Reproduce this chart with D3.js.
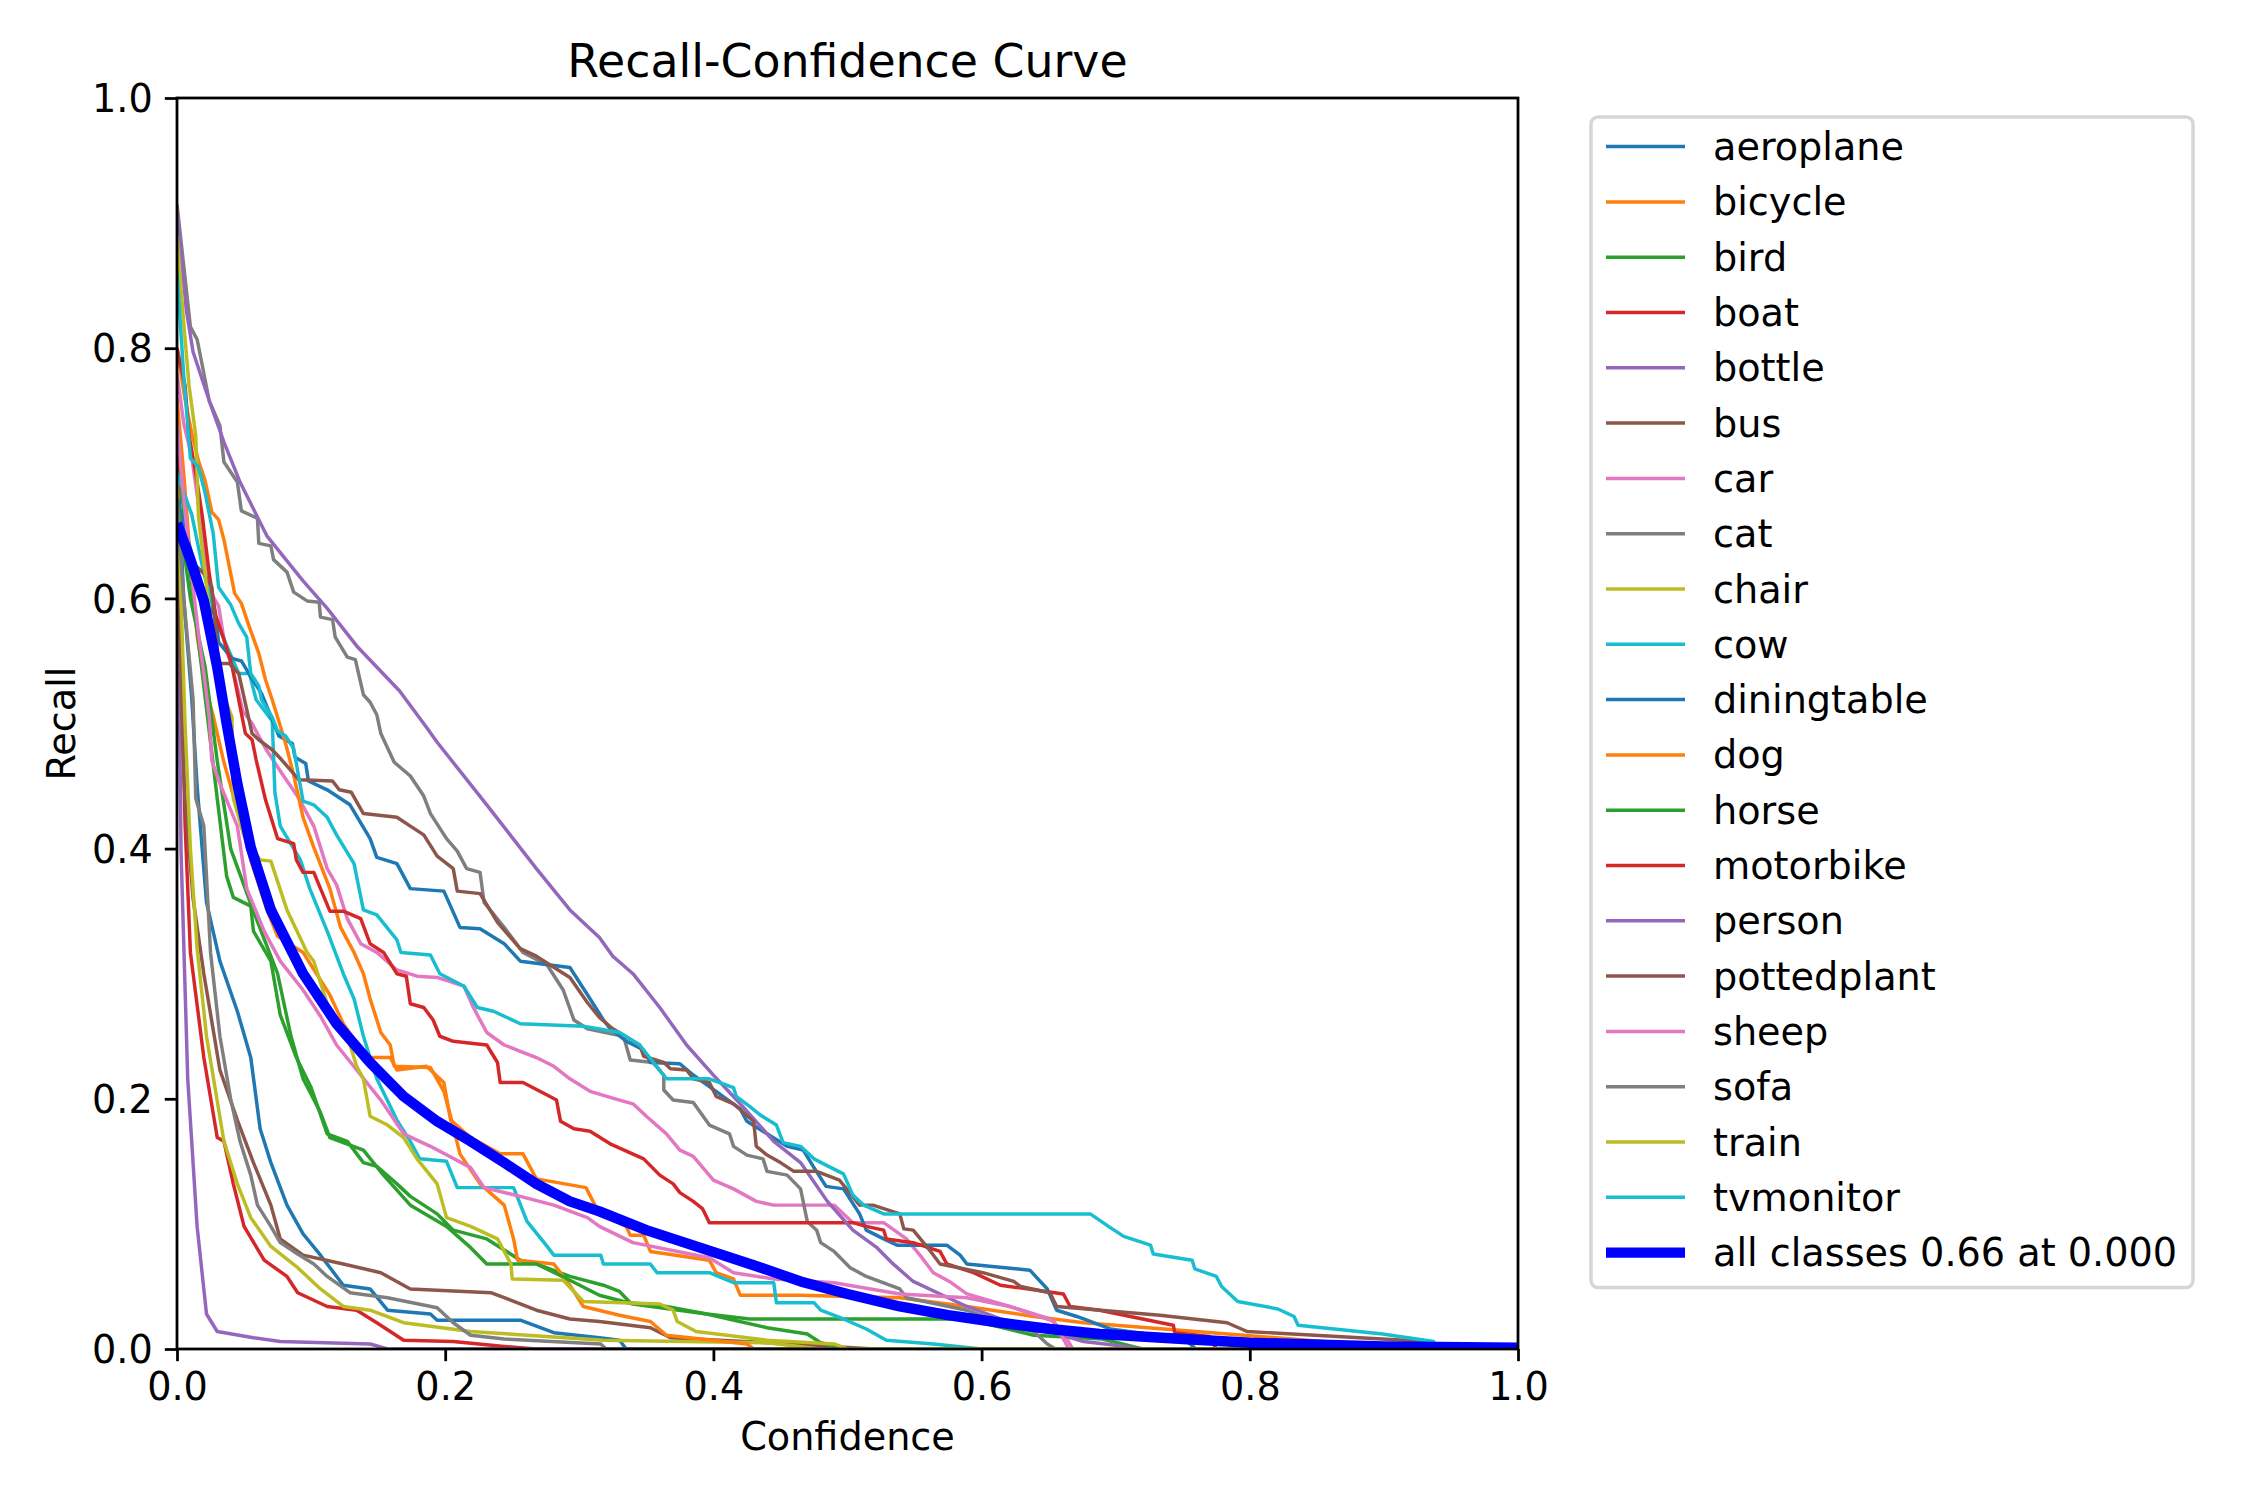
<!DOCTYPE html>
<html>
<head>
<meta charset="utf-8">
<script src="https://cdn.jsdelivr.net/npm/d3@7"></script>
<style>
  body { margin: 0; background: #fff; }
  text { font-family: "DejaVu Sans", sans-serif; }
</style>
</head>
<body>
<div id="chart"></div>
<script>
// class names, in legend order
var classNames = ["aeroplane", "bicycle", "bird", "boat", "bottle", "bus", "car", "cat", "chair", "cow",
  "diningtable", "dog", "horse", "motorbike", "person", "pottedplant", "sheep", "sofa", "train", "tvmonitor"];

// [confidence, recall] points
var aeroplane = [[0, 0.72], [0.005, 0.6], [0.011, 0.52], [0.015, 0.45], [0.022, 0.357], [0.032, 0.31], [0.045, 0.27],
  [0.055, 0.233], [0.062, 0.176], [0.07, 0.149], [0.082, 0.115], [0.094, 0.092], [0.107, 0.075], [0.124, 0.051],
  [0.144, 0.048], [0.157, 0.031], [0.189, 0.028], [0.194, 0.023], [0.256, 0.023], [0.281, 0.013], [0.315, 0.009],
  [0.33, 0.007], [0.335, 0], [1, 0]];
var bicycle = [[0, 0.76], [0.005, 0.7], [0.01, 0.63], [0.015, 0.57], [0.021, 0.53], [0.027, 0.506], [0.035, 0.469],
  [0.045, 0.431], [0.055, 0.391], [0.067, 0.351], [0.075, 0.33], [0.094, 0.317], [0.114, 0.283], [0.124, 0.26],
  [0.137, 0.24], [0.144, 0.233], [0.159, 0.233], [0.164, 0.223], [0.186, 0.226], [0.199, 0.213], [0.204, 0.183],
  [0.219, 0.169], [0.241, 0.156], [0.258, 0.156], [0.268, 0.136], [0.305, 0.129], [0.315, 0.108], [0.335, 0.098],
  [0.338, 0.091], [0.348, 0.091], [0.353, 0.078], [0.397, 0.071], [0.402, 0.061], [0.415, 0.056], [0.42, 0.043],
  [0.465, 0.043], [0.539, 0.041], [0.589, 0.034], [0.639, 0.026], [0.676, 0.021], [0.76, 0.014], [0.855, 0.006],
  [0.857, 0], [1, 0]];
var bird = [[0, 0.72], [0.01, 0.62], [0.02, 0.53], [0.03, 0.44], [0.037, 0.378], [0.042, 0.361], [0.055, 0.354],
  [0.057, 0.334], [0.07, 0.31], [0.077, 0.267], [0.089, 0.233], [0.1, 0.209], [0.112, 0.172], [0.127, 0.166],
  [0.139, 0.149], [0.149, 0.146], [0.164, 0.132], [0.174, 0.122], [0.194, 0.108], [0.206, 0.095], [0.231, 0.088],
  [0.256, 0.071], [0.268, 0.068], [0.293, 0.058], [0.318, 0.051], [0.33, 0.046], [0.338, 0.037], [0.365, 0.034],
  [0.395, 0.028], [0.427, 0.024], [0.589, 0.024], [0.639, 0.011], [0.69, 0.008], [0.72, 0], [1, 0]];
var boat = [[0, 0.72], [0.003, 0.55], [0.006, 0.42], [0.01, 0.317], [0.02, 0.233], [0.03, 0.169], [0.035, 0.166],
  [0.042, 0.132], [0.05, 0.098], [0.065, 0.071], [0.082, 0.058], [0.09, 0.045], [0.112, 0.034], [0.134, 0.031],
  [0.149, 0.021], [0.169, 0.007], [0.206, 0.006], [0.244, 0.002], [0.268, 0], [1, 0]];
var bottle = [[0, 0.62], [0.002, 0.5], [0.003, 0.398], [0.008, 0.216], [0.015, 0.098], [0.02, 0.048], [0.022, 0.028],
  [0.03, 0.014], [0.057, 0.009], [0.077, 0.006], [0.144, 0.004], [0.157, 0], [1, 0]];
var bus = [[0, 0.66], [0.004, 0.49], [0.006, 0.44], [0.012, 0.36], [0.02, 0.3], [0.032, 0.223], [0.045, 0.183],
  [0.057, 0.149], [0.07, 0.115], [0.077, 0.088], [0.094, 0.075], [0.124, 0.068], [0.152, 0.061], [0.174, 0.048],
  [0.234, 0.045], [0.244, 0.041], [0.268, 0.031], [0.293, 0.024], [0.315, 0.022], [0.353, 0.017], [0.368, 0.009],
  [0.44, 0.005], [0.52, 0], [1, 0]];
var car = [[0, 0.78], [0.005, 0.74], [0.011, 0.713], [0.016, 0.675], [0.021, 0.634], [0.026, 0.603], [0.031, 0.594],
  [0.036, 0.561], [0.041, 0.546], [0.046, 0.524], [0.049, 0.51], [0.056, 0.5], [0.066, 0.48], [0.077, 0.462],
  [0.091, 0.44], [0.102, 0.418], [0.112, 0.384], [0.119, 0.371], [0.127, 0.344], [0.137, 0.324], [0.149, 0.317],
  [0.164, 0.303], [0.179, 0.298], [0.194, 0.297], [0.214, 0.29], [0.221, 0.273], [0.231, 0.253], [0.244, 0.243],
  [0.256, 0.238], [0.268, 0.233], [0.281, 0.226], [0.293, 0.216], [0.308, 0.206], [0.33, 0.199], [0.34, 0.196],
  [0.35, 0.186], [0.365, 0.172], [0.375, 0.159], [0.385, 0.154], [0.4, 0.135], [0.415, 0.128], [0.432, 0.118],
  [0.445, 0.115], [0.49, 0.115], [0.504, 0.101], [0.527, 0.101], [0.544, 0.088], [0.554, 0.075], [0.564, 0.061],
  [0.576, 0.054], [0.589, 0.044], [0.621, 0.034], [0.651, 0.024], [0.66, 0.015], [0.668, 0], [1, 0]];
var cat = [[0, 0.915], [0.01, 0.817], [0.015, 0.807], [0.02, 0.78], [0.024, 0.758], [0.032, 0.738], [0.035, 0.709],
  [0.045, 0.693], [0.048, 0.67], [0.06, 0.664], [0.061, 0.644], [0.07, 0.642], [0.072, 0.631], [0.082, 0.621],
  [0.087, 0.605], [0.097, 0.598], [0.106, 0.597], [0.107, 0.585], [0.116, 0.583], [0.118, 0.569], [0.127, 0.553],
  [0.133, 0.551], [0.139, 0.523], [0.144, 0.517], [0.149, 0.507], [0.152, 0.492], [0.162, 0.469], [0.174, 0.458],
  [0.184, 0.442], [0.189, 0.428], [0.201, 0.408], [0.209, 0.398], [0.216, 0.384], [0.226, 0.381], [0.229, 0.357],
  [0.244, 0.337], [0.258, 0.317], [0.276, 0.307], [0.288, 0.287], [0.296, 0.263], [0.306, 0.256], [0.333, 0.25],
  [0.338, 0.231], [0.355, 0.229], [0.363, 0.219], [0.363, 0.207], [0.37, 0.199], [0.385, 0.197], [0.397, 0.179],
  [0.412, 0.172], [0.415, 0.162], [0.425, 0.155], [0.437, 0.152], [0.44, 0.142], [0.455, 0.139], [0.465, 0.128],
  [0.47, 0.102], [0.477, 0.095], [0.48, 0.085], [0.49, 0.078], [0.502, 0.065], [0.514, 0.058], [0.539, 0.048],
  [0.544, 0.041], [0.589, 0.031], [0.614, 0.021], [0.639, 0.014], [0.649, 0.004], [0.655, 0], [1, 0]];
var chair = [[0, 0.7], [0.003, 0.6], [0.006, 0.5], [0.01, 0.4], [0.015, 0.32], [0.022, 0.25], [0.035, 0.166],
  [0.045, 0.132], [0.055, 0.105], [0.07, 0.082], [0.09, 0.065], [0.107, 0.048], [0.124, 0.034], [0.144, 0.031],
  [0.169, 0.021], [0.219, 0.014], [0.318, 0.007], [0.44, 0.005], [0.48, 0], [1, 0]];
var cow = [[0, 0.7], [0.011, 0.667], [0.02, 0.62], [0.03, 0.58], [0.046, 0.54], [0.054, 0.54], [0.059, 0.519],
  [0.071, 0.502], [0.073, 0.445], [0.077, 0.418], [0.092, 0.391], [0.099, 0.368], [0.112, 0.334], [0.124, 0.3],
  [0.132, 0.28], [0.139, 0.25], [0.144, 0.233], [0.149, 0.216], [0.164, 0.183], [0.174, 0.166], [0.181, 0.152],
  [0.201, 0.15], [0.209, 0.129], [0.251, 0.129], [0.261, 0.102], [0.276, 0.082], [0.281, 0.075], [0.316, 0.075],
  [0.318, 0.068], [0.353, 0.068], [0.358, 0.061], [0.397, 0.061], [0.415, 0.053], [0.445, 0.053], [0.447, 0.037],
  [0.475, 0.037], [0.48, 0.031], [0.497, 0.024], [0.514, 0.016], [0.529, 0.007], [0.564, 0.004], [0.6, 0], [1, 0]];
var diningtable = [[0, 0.68], [0.01, 0.64], [0.02, 0.6], [0.029, 0.585], [0.031, 0.565], [0.041, 0.552],
  [0.048, 0.55], [0.053, 0.541], [0.063, 0.524], [0.068, 0.511], [0.076, 0.49], [0.086, 0.484], [0.088, 0.473],
  [0.096, 0.468], [0.098, 0.454], [0.112, 0.447], [0.129, 0.435], [0.144, 0.408], [0.149, 0.393], [0.164, 0.388],
  [0.174, 0.368], [0.199, 0.366], [0.211, 0.337], [0.226, 0.336], [0.244, 0.324], [0.256, 0.31], [0.293, 0.305],
  [0.308, 0.28], [0.318, 0.263], [0.323, 0.256], [0.335, 0.246], [0.348, 0.239], [0.353, 0.229], [0.375, 0.228],
  [0.385, 0.219], [0.402, 0.206], [0.42, 0.192], [0.425, 0.182], [0.44, 0.172], [0.455, 0.162], [0.467, 0.159],
  [0.475, 0.145], [0.484, 0.13], [0.497, 0.128], [0.509, 0.108], [0.514, 0.095], [0.527, 0.088], [0.537, 0.083],
  [0.574, 0.083], [0.584, 0.075], [0.589, 0.068], [0.636, 0.063], [0.649, 0.048], [0.656, 0.031], [0.671, 0.026],
  [0.696, 0.016], [0.751, 0.008], [0.76, 0], [1, 0]];
var dog = [[0, 0.8], [0.006, 0.759], [0.011, 0.732], [0.016, 0.71], [0.021, 0.694], [0.026, 0.669], [0.031, 0.663],
  [0.035, 0.647], [0.04, 0.62], [0.043, 0.604], [0.048, 0.596], [0.053, 0.58], [0.061, 0.556], [0.066, 0.535],
  [0.071, 0.519], [0.081, 0.484], [0.087, 0.459], [0.094, 0.425], [0.102, 0.401], [0.114, 0.368], [0.122, 0.337],
  [0.132, 0.317], [0.139, 0.3], [0.144, 0.28], [0.152, 0.253], [0.159, 0.243], [0.162, 0.226], [0.189, 0.225],
  [0.199, 0.206], [0.204, 0.186], [0.211, 0.156], [0.226, 0.132], [0.244, 0.115], [0.251, 0.088], [0.254, 0.071],
  [0.281, 0.068], [0.293, 0.051], [0.303, 0.034], [0.33, 0.027], [0.353, 0.022], [0.365, 0.011], [0.425, 0.004],
  [0.43, 0], [1, 0]];
var horse = [[0, 0.68], [0.01, 0.6], [0.021, 0.545], [0.03, 0.47], [0.04, 0.4], [0.057, 0.35], [0.075, 0.3],
  [0.085, 0.25], [0.094, 0.216], [0.107, 0.189], [0.114, 0.169], [0.139, 0.159], [0.154, 0.139], [0.174, 0.115],
  [0.201, 0.098], [0.219, 0.081], [0.231, 0.068], [0.268, 0.068], [0.293, 0.055], [0.315, 0.043], [0.34, 0.036],
  [0.395, 0.028], [0.44, 0.017], [0.47, 0.012], [0.48, 0.005], [0.5, 0], [1, 0]];
var motorbike = [[0, 0.8], [0.006, 0.77], [0.009, 0.73], [0.014, 0.7], [0.019, 0.665], [0.024, 0.62], [0.029, 0.586],
  [0.036, 0.564], [0.041, 0.546], [0.046, 0.519], [0.051, 0.492], [0.056, 0.487], [0.059, 0.471], [0.066, 0.439],
  [0.075, 0.408], [0.087, 0.404], [0.089, 0.391], [0.094, 0.381], [0.102, 0.381], [0.114, 0.35], [0.124, 0.35],
  [0.137, 0.344], [0.144, 0.324], [0.154, 0.317], [0.164, 0.3], [0.171, 0.298], [0.174, 0.276], [0.184, 0.273],
  [0.191, 0.263], [0.196, 0.25], [0.206, 0.246], [0.231, 0.243], [0.239, 0.229], [0.241, 0.213], [0.258, 0.213],
  [0.276, 0.203], [0.283, 0.199], [0.286, 0.182], [0.296, 0.176], [0.308, 0.174], [0.323, 0.164], [0.348, 0.152],
  [0.36, 0.139], [0.37, 0.132], [0.375, 0.125], [0.385, 0.118], [0.392, 0.112], [0.397, 0.101], [0.504, 0.101],
  [0.514, 0.098], [0.527, 0.095], [0.529, 0.088], [0.549, 0.085], [0.569, 0.078], [0.574, 0.068], [0.594, 0.061],
  [0.614, 0.051], [0.661, 0.044], [0.666, 0.034], [0.688, 0.031], [0.743, 0.019], [0.744, 0.013], [0.77, 0.01],
  [0.775, 0], [1, 0]];
var person = [[0, 0.91], [0.007, 0.83], [0.012, 0.797], [0.025, 0.755], [0.035, 0.725], [0.047, 0.693],
  [0.067, 0.65], [0.094, 0.614], [0.112, 0.592], [0.134, 0.562], [0.166, 0.526], [0.186, 0.497], [0.194, 0.485],
  [0.231, 0.435], [0.268, 0.384], [0.293, 0.351], [0.315, 0.329], [0.325, 0.314], [0.34, 0.3], [0.36, 0.273],
  [0.38, 0.243], [0.4, 0.219], [0.42, 0.196], [0.445, 0.166], [0.465, 0.149], [0.485, 0.118], [0.504, 0.095],
  [0.522, 0.081], [0.534, 0.068], [0.549, 0.054], [0.569, 0.044], [0.589, 0.034], [0.614, 0.024], [0.651, 0.014],
  [0.676, 0.006], [0.7, 0.003], [0.72, 0], [1, 0]];
var pottedplant = [[0, 0.65], [0.01, 0.63], [0.02, 0.62], [0.026, 0.609], [0.031, 0.548], [0.039, 0.548],
  [0.046, 0.54], [0.056, 0.492], [0.061, 0.487], [0.071, 0.479], [0.078, 0.471], [0.091, 0.455], [0.116, 0.454],
  [0.121, 0.447], [0.13, 0.445], [0.139, 0.428], [0.164, 0.425], [0.174, 0.418], [0.184, 0.411], [0.194, 0.394],
  [0.206, 0.384], [0.209, 0.366], [0.226, 0.364], [0.239, 0.341], [0.256, 0.32], [0.268, 0.314], [0.293, 0.297],
  [0.306, 0.277], [0.315, 0.265], [0.325, 0.256], [0.345, 0.243], [0.348, 0.234], [0.363, 0.229], [0.368, 0.224],
  [0.38, 0.223], [0.385, 0.216], [0.397, 0.213], [0.402, 0.202], [0.415, 0.196], [0.43, 0.182], [0.432, 0.162],
  [0.44, 0.155], [0.45, 0.149], [0.46, 0.142], [0.477, 0.142], [0.494, 0.135], [0.509, 0.115], [0.519, 0.115],
  [0.539, 0.108], [0.542, 0.096], [0.549, 0.095], [0.562, 0.078], [0.569, 0.068], [0.601, 0.061], [0.624, 0.054],
  [0.629, 0.05], [0.651, 0.045], [0.656, 0.034], [0.733, 0.027], [0.783, 0.021], [0.798, 0.014], [0.932, 0.006],
  [0.935, 0], [1, 0]];
var sheep = [[0, 0.74], [0.005, 0.68], [0.011, 0.618], [0.016, 0.572], [0.021, 0.532], [0.024, 0.505],
  [0.026, 0.47], [0.032, 0.452], [0.045, 0.418], [0.052, 0.368], [0.065, 0.334], [0.077, 0.31], [0.094, 0.287],
  [0.107, 0.266], [0.119, 0.243], [0.134, 0.223], [0.152, 0.199], [0.169, 0.172], [0.189, 0.162], [0.219, 0.145],
  [0.229, 0.129], [0.256, 0.122], [0.281, 0.115], [0.306, 0.105], [0.315, 0.098], [0.34, 0.085], [0.397, 0.073],
  [0.415, 0.061], [0.445, 0.056], [0.49, 0.053], [0.539, 0.044], [0.589, 0.041], [0.621, 0.034], [0.654, 0.022],
  [0.66, 0.01], [0.665, 0], [1, 0]];
var sofa = [[0, 0.68], [0.005, 0.6], [0.012, 0.519], [0.014, 0.44], [0.02, 0.418], [0.025, 0.317], [0.032, 0.25],
  [0.04, 0.2], [0.047, 0.166], [0.055, 0.139], [0.06, 0.115], [0.07, 0.098], [0.077, 0.085], [0.087, 0.078],
  [0.102, 0.068], [0.112, 0.058], [0.129, 0.045], [0.157, 0.041], [0.194, 0.033], [0.206, 0.021], [0.219, 0.011],
  [0.244, 0.008], [0.316, 0.004], [0.32, 0], [1, 0]];
var train = [[0, 0.89], [0.005, 0.82], [0.009, 0.77], [0.014, 0.73], [0.016, 0.665], [0.022, 0.61], [0.029, 0.545],
  [0.034, 0.532], [0.036, 0.519], [0.041, 0.505], [0.042, 0.44], [0.05, 0.41], [0.062, 0.391], [0.07, 0.39],
  [0.082, 0.351], [0.097, 0.317], [0.102, 0.31], [0.112, 0.276], [0.127, 0.25], [0.134, 0.226], [0.139, 0.216],
  [0.144, 0.186], [0.157, 0.179], [0.169, 0.169], [0.179, 0.152], [0.194, 0.132], [0.201, 0.105], [0.219, 0.098],
  [0.239, 0.088], [0.249, 0.068], [0.25, 0.056], [0.288, 0.055], [0.303, 0.038], [0.36, 0.036], [0.37, 0.031],
  [0.373, 0.022], [0.387, 0.014], [0.44, 0.007], [0.49, 0.004], [0.5, 0], [1, 0]];
var tvmonitor = [[0, 0.862], [0.005, 0.778], [0.01, 0.712], [0.016, 0.705], [0.021, 0.684], [0.027, 0.652],
  [0.031, 0.609], [0.04, 0.595], [0.046, 0.58], [0.052, 0.569], [0.055, 0.54], [0.061, 0.53], [0.063, 0.519],
  [0.071, 0.505], [0.075, 0.494], [0.081, 0.49], [0.087, 0.48], [0.094, 0.438], [0.102, 0.435], [0.112, 0.425],
  [0.119, 0.411], [0.132, 0.388], [0.139, 0.351], [0.149, 0.347], [0.164, 0.327], [0.167, 0.317], [0.189, 0.315],
  [0.196, 0.3], [0.214, 0.29], [0.224, 0.273], [0.236, 0.27], [0.256, 0.26], [0.303, 0.258], [0.33, 0.253],
  [0.345, 0.243], [0.365, 0.216], [0.397, 0.216], [0.415, 0.209], [0.417, 0.202], [0.427, 0.194], [0.435, 0.187],
  [0.447, 0.179], [0.452, 0.165], [0.465, 0.162], [0.475, 0.152], [0.484, 0.147], [0.497, 0.14], [0.504, 0.123],
  [0.512, 0.115], [0.527, 0.108], [0.681, 0.108], [0.696, 0.097], [0.706, 0.09], [0.726, 0.083], [0.728, 0.076],
  [0.757, 0.071], [0.759, 0.064], [0.775, 0.058], [0.779, 0.05], [0.791, 0.038], [0.821, 0.032], [0.833, 0.026],
  [0.836, 0.019], [0.899, 0.012], [0.937, 0.006], [0.94, 0], [1, 0]];

// mean over all classes (thick blue)
var allClasses = [[0, 0.66], [0.01, 0.631], [0.02, 0.598], [0.03, 0.545], [0.037, 0.5], [0.045, 0.452],
  [0.055, 0.401], [0.07, 0.351], [0.094, 0.3], [0.119, 0.26], [0.144, 0.229], [0.169, 0.202], [0.194, 0.182],
  [0.219, 0.166], [0.244, 0.149], [0.268, 0.132], [0.293, 0.118], [0.315, 0.11], [0.35, 0.095], [0.39, 0.081],
  [0.43, 0.067], [0.465, 0.054], [0.5, 0.044], [0.539, 0.034], [0.575, 0.027], [0.614, 0.021], [0.651, 0.016],
  [0.688, 0.012], [0.75, 0.008], [0.8, 0.005], [0.9, 0.002], [1, 0.001]];
var allLabel = "all classes 0.66 at 0.000";

var curves = [aeroplane, bicycle, bird, boat, bottle, bus, car, cat, chair, cow,
  diningtable, dog, horse, motorbike, person, pottedplant, sheep, sofa, train, tvmonitor];

var tickValues = [0, 0.2, 0.4, 0.6, 0.8, 1.0];

var width = 2250, height = 1500;
var plot = {left: 177, right: 1518, top: 98, bottom: 1349};
var fontSize = 38.2;
var palette = d3.schemeCategory10;

var svg = d3.select("#chart").append("svg")
  .attr("width", width).attr("height", height)
  .style("background", "#fff");

var x = d3.scaleLinear().domain([0, 1]).range([plot.left, plot.right]);
var y = d3.scaleLinear().domain([0, 1]).range([plot.bottom, plot.top]);

svg.append("clipPath").attr("id", "plotclip")
  .append("rect")
  .attr("x", plot.left).attr("y", plot.top)
  .attr("width", plot.right - plot.left).attr("height", plot.bottom - plot.top);

var line = d3.line()
  .x(function (d) { return x(d[0]); })
  .y(function (d) { return y(d[1]); });

var lineGroup = svg.append("g").attr("clip-path", "url(#plotclip)");

lineGroup.selectAll("path.cls")
  .data(curves).enter().append("path")
  .attr("class", "cls")
  .attr("d", line)
  .attr("fill", "none")
  .attr("stroke", function (d, i) { return palette[i % 10]; })
  .attr("stroke-width", 3.47)
  .attr("stroke-linejoin", "round");

lineGroup.append("path")
  .datum(allClasses)
  .attr("d", line)
  .attr("fill", "none")
  .attr("stroke", "#0000ff")
  .attr("stroke-width", 10.4)
  .attr("stroke-linejoin", "round");

// axes
var xAxis = svg.append("g")
  .attr("transform", "translate(0," + plot.bottom + ")")
  .call(d3.axisBottom(x).tickValues(tickValues).tickFormat(d3.format(".1f")).tickSize(12.2).tickPadding(12));
var yAxis = svg.append("g")
  .attr("transform", "translate(" + plot.left + ",0)")
  .call(d3.axisLeft(y).tickValues(tickValues).tickFormat(d3.format(".1f")).tickSize(12.2).tickPadding(12));

[xAxis, yAxis].forEach(function (g) {
  g.select(".domain").remove();
  g.selectAll(".tick line").attr("stroke", "#000").attr("stroke-width", 2.78);
  g.selectAll(".tick text")
    .attr("fill", "#000")
    .style("font-family", "DejaVu Sans")
    .style("font-size", fontSize + "px");
});
// baseline of x tick labels at about 1400
xAxis.selectAll(".tick text").attr("y", 51).attr("dy", null);
yAxis.selectAll(".tick text").attr("dy", "0.36em");

svg.append("rect")
  .attr("x", plot.left).attr("y", plot.top)
  .attr("width", plot.right - plot.left).attr("height", plot.bottom - plot.top)
  .attr("fill", "none")
  .attr("stroke", "#000")
  .attr("stroke-width", 2.78);

// titles
svg.append("text")
  .attr("x", (plot.left + plot.right) / 2).attr("y", 77)
  .attr("text-anchor", "middle")
  .style("font-size", "45.8px")
  .text("Recall-Confidence Curve");

svg.append("text")
  .attr("x", (plot.left + plot.right) / 2).attr("y", 1450)
  .attr("text-anchor", "middle")
  .style("font-size", fontSize + "px")
  .text("Confidence");

svg.append("text")
  .attr("transform", "translate(75," + (plot.top + plot.bottom) / 2 + ") rotate(-90)")
  .attr("text-anchor", "middle")
  .style("font-size", fontSize + "px")
  .text("Recall");

// legend
var legendItems = classNames.map(function (name, i) {
  return {label: name, color: palette[i % 10], width: 3.47};
});
legendItems.push({label: allLabel, color: "#0000ff", width: 10.4});

var legend = svg.append("g");
var rowStep = 55.3, firstRow = 146.6;

legend.append("rect")
  .attr("x", 1591).attr("y", 117)
  .attr("width", 2193 - 1591)
  .attr("height", firstRow + rowStep * (legendItems.length - 1) + 35 - 117)
  .attr("rx", 7).attr("ry", 7)
  .attr("fill", "#fff")
  .attr("fill-opacity", 0.8)
  .attr("stroke", "#d6d6d6")
  .attr("stroke-width", 3.47);

var rows = legend.selectAll("g.row")
  .data(legendItems).enter().append("g")
  .attr("class", "row")
  .attr("transform", function (d, i) { return "translate(0," + (firstRow + i * rowStep) + ")"; });

rows.append("line")
  .attr("x1", 1606).attr("x2", 1685)
  .attr("y1", 0).attr("y2", 0)
  .attr("stroke", function (d) { return d.color; })
  .attr("stroke-width", function (d) { return d.width; });

rows.append("text")
  .attr("x", 1713).attr("y", 13.5)
  .style("font-size", fontSize + "px")
  .text(function (d) { return d.label; });
</script>
</body>
</html>
